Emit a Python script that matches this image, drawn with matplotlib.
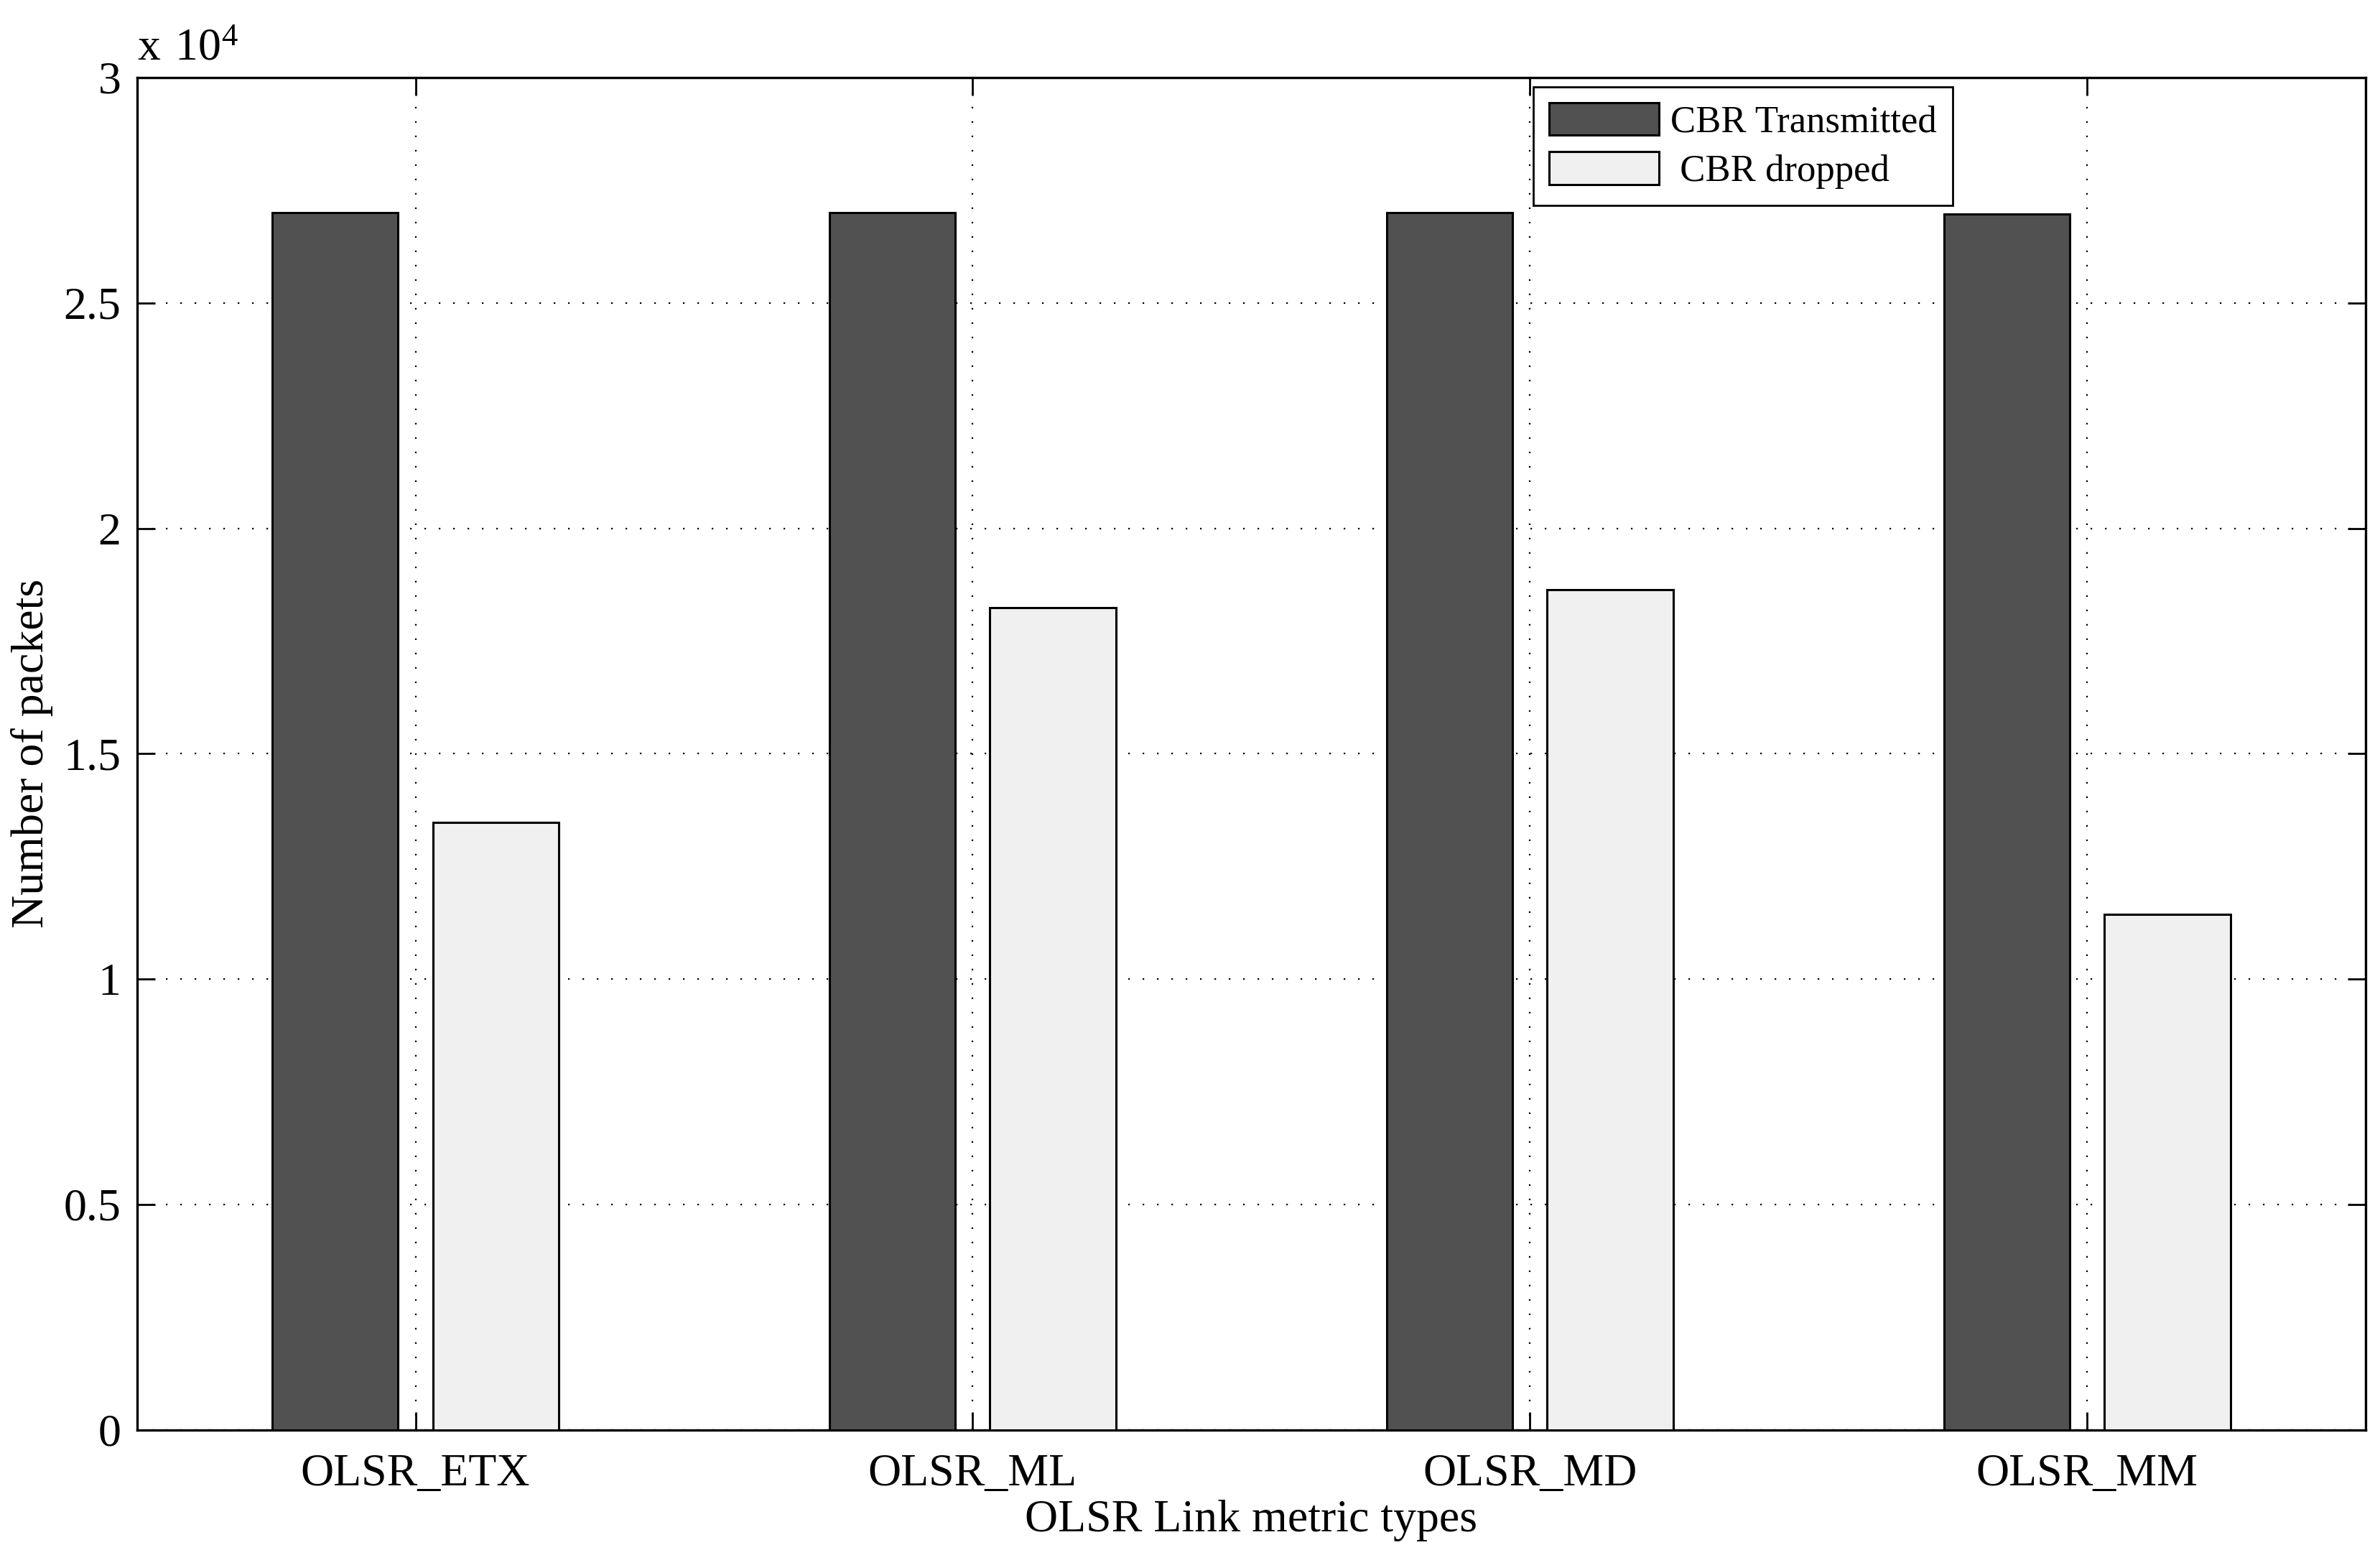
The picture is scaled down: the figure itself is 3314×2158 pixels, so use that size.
"""Grouped bar chart: CBR packets transmitted vs dropped per OLSR link metric."""

import matplotlib

matplotlib.use("Agg")

import matplotlib.pyplot as plt
import numpy as np
from matplotlib.ticker import FuncFormatter


metrics = ["OLSR_ETX", "OLSR_ML", "OLSR_MD", "OLSR_MM"]
transmitted = [27000, 27000, 27000, 26970]
dropped = [13480, 18240, 18640, 11430]
series_names = ["CBR Transmitted", " CBR dropped"]
y_ticks = [0, 5000, 10000, 15000, 20000, 25000, 30000]

DARK = "#515151"
LIGHT = "#f0f0f0"

plt.rcParams["font.family"] = ["Liberation Serif", "DejaVu Serif"]
plt.rcParams["mathtext.fontset"] = "custom"
plt.rcParams["mathtext.rm"] = "Liberation Serif"
plt.rcParams["font.size"] = 23


def main():
    fig = plt.figure(figsize=(16.57, 10.79), dpi=200)
    ax = fig.add_axes([0.0575, 0.0775, 0.9365, 0.8725])

    x = np.arange(1, len(metrics) + 1)
    width = 0.226
    offset = 0.144

    ax.bar(x - offset, transmitted, width, color=DARK, edgecolor="black",
           linewidth=1.1, label=series_names[0], zorder=3)
    ax.bar(x + offset, dropped, width, color=LIGHT, edgecolor="black",
           linewidth=1.1, label=series_names[1], zorder=3)

    ax.set_xlim(0.5, 4.5)
    ax.set_ylim(0, 30000)
    ax.set_xticks(x)
    ax.set_xticklabels(metrics)
    ax.set_yticks(y_ticks)
    ax.yaxis.set_major_formatter(FuncFormatter(lambda v, pos: f"{v / 1e4:g}"))

    ax.grid(True, color="black", linestyle=(0, (1, 8)), linewidth=0.8, zorder=0)
    ax.set_axisbelow(True)

    ax.tick_params(direction="in", length=9, width=1.0, top=True, right=True)
    ax.tick_params(axis="x", pad=12)
    ax.tick_params(axis="y", pad=8)
    for spine in ax.spines.values():
        spine.set_linewidth(1.2)

    ax.set_xlabel("OLSR Link metric types", labelpad=2)
    ax.set_ylabel("Number of packets", labelpad=5)

    ax.text(0.0, 1.013, r"$\mathrm{x\ 10^{4}}$", transform=ax.transAxes,
            ha="left", va="baseline")

    leg = ax.legend(loc="upper right", bbox_to_anchor=(0.8146, 0.9933),
                    borderaxespad=0, fancybox=False, framealpha=1,
                    edgecolor="black", fontsize=19, handlelength=2.9,
                    handleheight=0.95, labelspacing=0.32, handletextpad=0.3,
                    borderpad=0.42)
    leg.get_frame().set_linewidth(1.0)
    leg.set_zorder(5)

    fig.savefig("out.png", dpi=200)
    plt.close(fig)


if __name__ == "__main__":
    main()
